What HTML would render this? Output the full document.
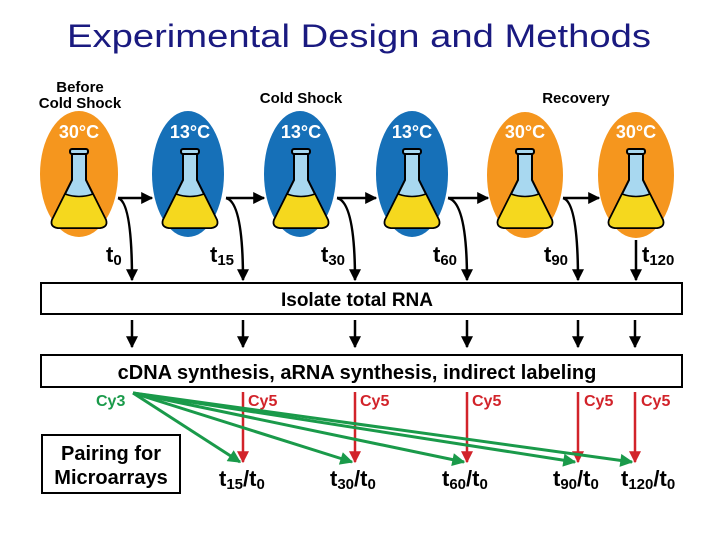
<!DOCTYPE html>
<html><head><meta charset="utf-8"><style>
body{margin:0;background:#fff;width:720px;height:540px;overflow:hidden}
text{font-family:"Liberation Sans",Arial,sans-serif;font-weight:bold}
</style></head><body>
<svg width="720" height="540" xmlns="http://www.w3.org/2000/svg">
<defs>
<marker id="ak" viewBox="0 0 10 10" markerWidth="12" markerHeight="12" refX="9" refY="5" orient="auto" markerUnits="userSpaceOnUse"><path d="M0,0 L10,5 L0,10 Z" fill="#000"/></marker>
<marker id="ar" viewBox="0 0 10 10" markerWidth="12" markerHeight="13" refX="9" refY="5" orient="auto" markerUnits="userSpaceOnUse"><path d="M0,0 L10,5 L0,10 Z" fill="#d2232a"/></marker>
<marker id="ag" viewBox="0 0 10 10" markerWidth="14" markerHeight="13" refX="9" refY="5" orient="auto" markerUnits="userSpaceOnUse"><path d="M0,0 L10,5 L0,10 Z" fill="#1a9a4a"/></marker>
<g id="flask">
<path d="M-7,-27 L-7,0 L-27,40 Q-29,47 -21,48 L21,48 Q29,47 27,40 L7,0 L7,-27 Z" fill="#a8d8f0" stroke="#000" stroke-width="2"/>
<path d="M-14,14 L-27,40 Q-29,47 -21,48 L21,48 Q29,47 27,40 L14,14 Q0,19 -14,14 Z" fill="#f5d81e" stroke="#000" stroke-width="1.5"/>
<rect x="-9" y="-31" width="18" height="5" rx="2" fill="#a8d8f0" stroke="#000" stroke-width="2"/>
</g>
</defs>
<text x="67" y="47" font-size="32" fill="#1a1a80" textLength="584" lengthAdjust="spacingAndGlyphs" style="font-weight:normal">Experimental Design and Methods</text>
<text x="80" y="92" text-anchor="middle" font-size="15">Before</text>
<text x="80" y="108" text-anchor="middle" font-size="15">Cold Shock</text>
<text x="301" y="103" text-anchor="middle" font-size="15">Cold Shock</text>
<text x="576" y="103" text-anchor="middle" font-size="15">Recovery</text>
<g>
<ellipse cx="79" cy="174" rx="39" ry="63" fill="#f5961e"/>
<ellipse cx="188" cy="174" rx="36" ry="63" fill="#1670b8"/>
<ellipse cx="300" cy="174" rx="36" ry="63" fill="#1670b8"/>
<ellipse cx="412" cy="174" rx="36" ry="63" fill="#1670b8"/>
<ellipse cx="525" cy="175" rx="38" ry="63" fill="#f5961e"/>
<ellipse cx="636" cy="175" rx="38" ry="63" fill="#f5961e"/>
</g>
<g font-size="18" fill="#fff" text-anchor="middle" style="font-weight:normal">
<text x="79" y="138">30°C</text><text x="190" y="138">13°C</text><text x="301" y="138">13°C</text><text x="412" y="138">13°C</text><text x="525" y="138">30°C</text><text x="636" y="138">30°C</text>
</g>
<use href="#flask" x="79" y="180"/><use href="#flask" x="190" y="180"/><use href="#flask" x="301" y="180"/><use href="#flask" x="412" y="180"/><use href="#flask" x="525" y="180"/><use href="#flask" x="636" y="180"/>
<g stroke="#000" stroke-width="2.5" fill="none" marker-end="url(#ak)">
<path d="M118,198 L152,198"/><path d="M226,198 L264,198"/><path d="M337,198 L376,198"/><path d="M448,198 L488,198"/><path d="M563,198 L599,198"/>
<path d="M118,198 Q132,202 132,280"/><path d="M226,198 Q243,202 243,280"/><path d="M337,198 Q355,202 355,280"/><path d="M448,198 Q467,202 467,280"/><path d="M563,198 Q578,202 578,280"/><path d="M636,240 L636,280"/>
<path d="M132,320 L132,347"/><path d="M243,320 L243,347"/><path d="M355,320 L355,347"/><path d="M467,320 L467,347"/><path d="M578,320 L578,347"/><path d="M635,320 L635,347"/>
</g>
<g font-size="22"><text x="106" y="262">t<tspan font-size="15" dy="3">0</tspan></text>
<text x="210" y="262">t<tspan font-size="15" dy="3">15</tspan></text>
<text x="321" y="262">t<tspan font-size="15" dy="3">30</tspan></text>
<text x="433" y="262">t<tspan font-size="15" dy="3">60</tspan></text>
<text x="544" y="262">t<tspan font-size="15" dy="3">90</tspan></text>
<text x="642" y="262">t<tspan font-size="15" dy="3">120</tspan></text></g>
<rect x="41" y="283" width="641" height="31" fill="#fff" stroke="#000" stroke-width="2"/>
<text x="357" y="306" text-anchor="middle" font-size="19">Isolate total RNA</text>
<rect x="41" y="355" width="641" height="32" fill="#fff" stroke="#000" stroke-width="2"/>
<text x="357" y="379" text-anchor="middle" font-size="20">cDNA synthesis, aRNA synthesis, indirect labeling</text>
<text x="96" y="406" font-size="16" fill="#1a9a4a">Cy3</text>
<g font-size="16" fill="#d2232a"><text x="248" y="406">Cy5</text><text x="360" y="406">Cy5</text><text x="472" y="406">Cy5</text><text x="584" y="406">Cy5</text><text x="641" y="406">Cy5</text></g>
<g stroke="#d2232a" stroke-width="2.5" marker-end="url(#ar)"><path d="M243,392 L243,462"/><path d="M355,392 L355,462"/><path d="M467,392 L467,462"/><path d="M578,392 L578,462"/><path d="M635,392 L635,462"/></g>
<g stroke="#1a9a4a" stroke-width="3" marker-end="url(#ag)"><path d="M133,393 L240,462"/><path d="M133,393 L352,462"/><path d="M133,393 L464,462"/><path d="M133,393 L575,462"/><path d="M133,393 L632,462"/></g>
<rect x="42" y="435" width="138" height="58" fill="#fff" stroke="#000" stroke-width="2"/>
<text x="111" y="460" text-anchor="middle" font-size="20">Pairing for</text>
<text x="111" y="484" text-anchor="middle" font-size="20">Microarrays</text>
<g font-size="22">
<text x="219" y="486">t<tspan font-size="15" dy="3">15</tspan><tspan dy="-3">/t</tspan><tspan font-size="15" dy="3">0</tspan></text>
<text x="330" y="486">t<tspan font-size="15" dy="3">30</tspan><tspan dy="-3">/t</tspan><tspan font-size="15" dy="3">0</tspan></text>
<text x="442" y="486">t<tspan font-size="15" dy="3">60</tspan><tspan dy="-3">/t</tspan><tspan font-size="15" dy="3">0</tspan></text>
<text x="553" y="486">t<tspan font-size="15" dy="3">90</tspan><tspan dy="-3">/t</tspan><tspan font-size="15" dy="3">0</tspan></text>
<text x="621" y="486">t<tspan font-size="15" dy="3">120</tspan><tspan dy="-3">/t</tspan><tspan font-size="15" dy="3">0</tspan></text>
</g>
</svg>
</body></html>
